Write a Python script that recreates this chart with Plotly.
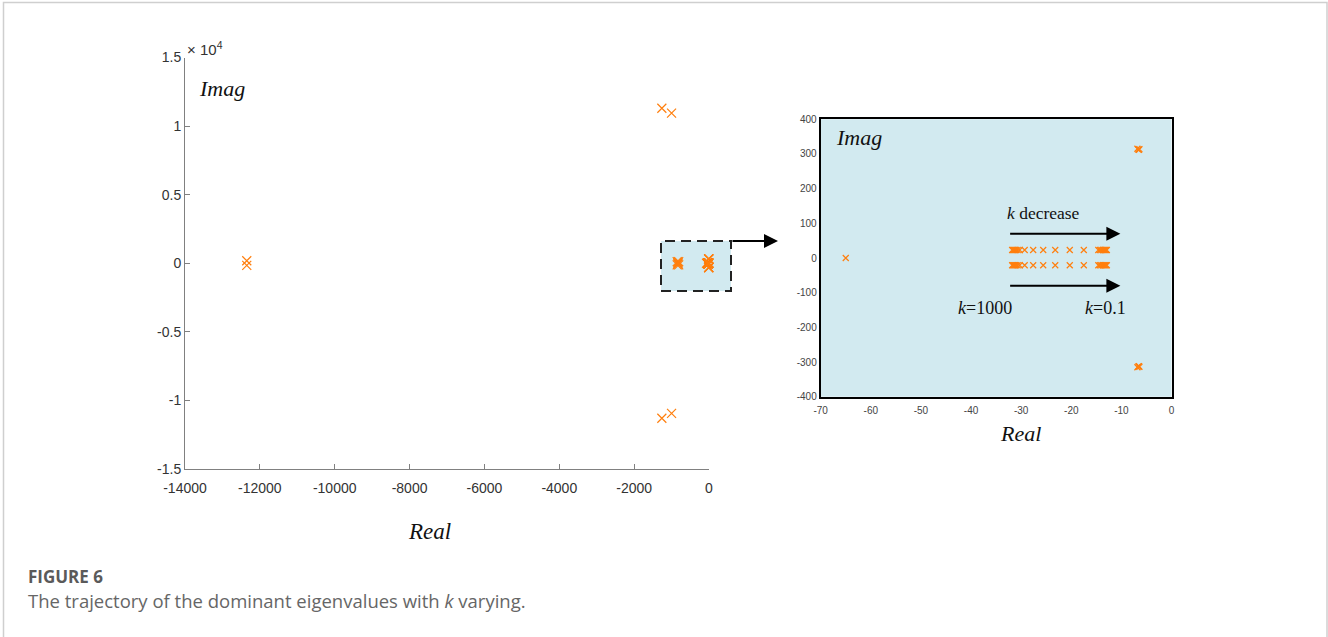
import plotly.graph_objects as go

W, H = 1328, 637

# ---------------- data ----------------
# main plot (Real, Imag) - eigenvalues far from origin
main_real = [-12350, -12350, -1260, -1000, -1260, -1000, -850, -830, -810, -850, -830, -810, -830]
main_imag = [180, -150, 11300, 10950, -11300, -10950, 120, 60, 120, -120, -60, -120, 0]

# zoomed region eigenvalues
far_real = [-65]
far_imag = [0]
pair_real = [-6.8, -6.6, -6.5, -6.4, -6.8, -6.6, -6.5, -6.4]
pair_imag = [315, 313, 312, 314, -315, -313, -312, -314]
row_real = [-31.8, -31.6, -31.4, -31.2, -31.0, -30.7, -30.3, -29.3, -27.6, -25.6, -23.2,
            -20.3, -17.5, -14.6, -14.3, -14.0, -13.7, -13.5, -13.3, -13.1, -12.9]
row_imag_up = [23] * len(row_real)
row_imag_dn = [-21] * len(row_real)

main_xticks = [-14000, -12000, -10000, -8000, -6000, -4000, -2000, 0]
main_yticks = [-15000, -10000, -5000, 0, 5000, 10000, 15000]
main_yticktext = ["-1.5", "-1", "-0.5", "0", "0.5", "1", "1.5"]
inset_xticks = [-70, -60, -50, -40, -30, -20, -10, 0]
inset_yticks = [-400, -300, -200, -100, 0, 100, 200, 300, 400]

ORANGE = "#FF7F0E"
BLUE = "#D2EAF0"

def X(px):
    return px / W

def Y(py):
    return 1 - py / H

inset_real = far_real + pair_real + row_real + row_real
inset_imag = far_imag + pair_imag + row_imag_up + row_imag_dn

fig = go.Figure()
fig.add_trace(go.Scatter(
    x=main_real + inset_real, y=main_imag + inset_imag, mode="markers",
    marker=dict(symbol="x-thin", size=9, line=dict(width=1.2, color=ORANGE), color=ORANGE),
    xaxis="x", yaxis="y", showlegend=False, hoverinfo="skip", cliponaxis=False))
fig.add_trace(go.Scatter(
    x=inset_real, y=inset_imag, mode="markers",
    marker=dict(symbol="x-thin", size=6, line=dict(width=1.2, color=ORANGE), color=ORANGE),
    xaxis="x2", yaxis="y2", showlegend=False, hoverinfo="skip", cliponaxis=False))

tickfont_main = dict(family="Liberation Sans, Arial", size=14, color="#333333")
tickfont_inset = dict(family="Liberation Sans, Arial", size=10, color="#444444")

fig.update_layout(
    width=W, height=H, margin=dict(l=0, r=0, t=0, b=0, pad=0), autosize=False,
    paper_bgcolor="white", plot_bgcolor="rgba(0,0,0,0)",
    xaxis=dict(domain=[X(185), X(709)], range=[-14000, 0], tickvals=main_xticks,
               ticktext=[str(v) for v in main_xticks], ticks="inside", ticklen=5,
               tickcolor="#808080", showline=True, linecolor="#808080", linewidth=1,
               showgrid=False, zeroline=False, tickfont=tickfont_main, anchor="y",
               automargin=False, ticklabelstandoff=6),
    yaxis=dict(domain=[Y(469), Y(57.5)], range=[-15000, 15000], tickvals=main_yticks,
               ticktext=main_yticktext, ticks="inside", ticklen=5, tickcolor="#808080",
               showline=True, linecolor="#808080", linewidth=1, showgrid=False,
               zeroline=False, tickfont=tickfont_main, anchor="x", automargin=False),
    xaxis2=dict(domain=[X(820.7), X(1171.5)], range=[-70, 0], tickvals=inset_xticks,
                ticktext=[str(v) for v in inset_xticks],
                ticks="", showline=True, mirror=True, linecolor="black", linewidth=2,
                showgrid=False, zeroline=False, tickfont=tickfont_inset, anchor="y2",
                automargin=False, ticklabelstandoff=3),
    yaxis2=dict(domain=[Y(396.7), Y(119.3)], range=[-400, 400], tickvals=inset_yticks,
                ticktext=[str(v) for v in inset_yticks],
                ticks="", showline=True, mirror=True, linecolor="black", linewidth=2,
                showgrid=False, zeroline=False, tickfont=tickfont_inset, anchor="x2",
                automargin=False),
)

shapes = []
# card border
shapes.append(dict(type="rect", xref="paper", yref="paper", x0=X(3.5), x1=X(1327),
                   y0=Y(700), y1=Y(2.5), line=dict(color="#cfcfcf", width=1.5),
                   fillcolor="rgba(0,0,0,0)", layer="below"))
# inset background
shapes.append(dict(type="rect", xref="x2 domain", yref="y2 domain", x0=0, x1=1, y0=0, y1=1,
                   fillcolor=BLUE, line=dict(width=0), layer="below"))
# dashed zoom box in main plot
shapes.append(dict(type="rect", xref="paper", yref="paper", x0=X(661), x1=X(731),
                   y0=Y(291), y1=Y(241), fillcolor=BLUE,
                   line=dict(color="#222222", width=2, dash="10px,6px"), layer="below"))
fig.update_layout(shapes=shapes)

serif = "Liberation Serif, Times New Roman"
ann = []
# arrow from zoom box to inset
ann.append(dict(xref="paper", yref="paper", x=X(778), y=Y(241), ax=-(778 - 731), ay=0,
                text="", showarrow=True, arrowhead=2, arrowsize=1.4, arrowwidth=2,
                arrowcolor="black"))
# inset arrows
for yv in [70, -80]:
    ann.append(dict(xref="x2", yref="y2", axref="x2", ayref="y2", x=-10.2, y=yv,
                    ax=-32.5, ay=yv, text="", showarrow=True, arrowhead=2,
                    arrowsize=1.4, arrowwidth=2, arrowcolor="black"))
# texts
ann.append(dict(xref="paper", yref="paper", x=X(197), y=Y(88), xanchor="left", yanchor="middle",
                text="<i>Imag</i>", showarrow=False, font=dict(family=serif, size=22, color="#111")))
ann.append(dict(xref="paper", yref="paper", x=X(430), y=Y(531), xanchor="center", yanchor="middle",
                text="<i>Real</i>", showarrow=False, font=dict(family=serif, size=23, color="#111")))
ann.append(dict(xref="paper", yref="paper", x=X(185), y=Y(48), xanchor="left", yanchor="middle",
                text="× 10<sup>4</sup>", showarrow=False,
                font=dict(family="Liberation Sans, Arial", size=15, color="#333")))
ann.append(dict(xref="paper", yref="paper", x=X(834), y=Y(138), xanchor="left", yanchor="middle",
                text="<i>Imag</i>", showarrow=False, font=dict(family=serif, size=22, color="#111")))
ann.append(dict(xref="paper", yref="paper", x=X(1020), y=Y(433), xanchor="center", yanchor="middle",
                text="<i>Real</i>", showarrow=False, font=dict(family=serif, size=22, color="#111")))
ann.append(dict(xref="x2", yref="y2", x=-25.5, y=130, xanchor="center", yanchor="middle",
                text="<i>k</i> decrease", showarrow=False, font=dict(family=serif, size=17.5, color="#111")))
ann.append(dict(xref="x2", yref="y2", x=-37.3, y=-143, xanchor="center", yanchor="middle",
                text="<i>k</i>=1000", showarrow=False, font=dict(family=serif, size=18, color="#111")))
ann.append(dict(xref="x2", yref="y2", x=-13.2, y=-143, xanchor="center", yanchor="middle",
                text="<i>k</i>=0.1", showarrow=False, font=dict(family=serif, size=18, color="#111")))
# caption
ann.append(dict(xref="paper", yref="paper", x=X(26), y=Y(576), xanchor="left", yanchor="middle",
                text="<b>FIGURE 6</b>", showarrow=False,
                font=dict(family="Open Sans, Noto Sans", size=17, color="#5a5a5a")))
ann.append(dict(xref="paper", yref="paper", x=X(26), y=Y(600), xanchor="left", yanchor="middle",
                text="The trajectory of the dominant eigenvalues with <i>k</i> varying.", showarrow=False,
                font=dict(family="Open Sans, Noto Sans", size=18.5, color="#666666")))
fig.update_layout(annotations=ann)

fig.write_html("out.html")
